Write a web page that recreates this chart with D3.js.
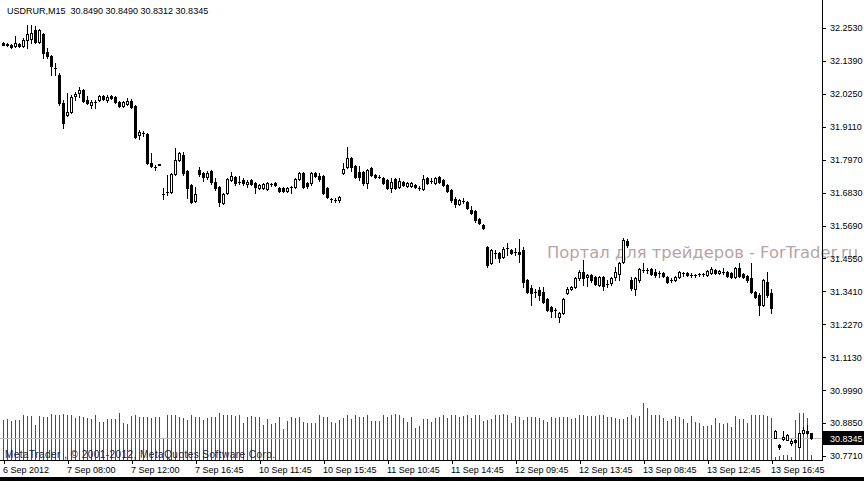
<!DOCTYPE html>
<html>
<head>
<meta charset="utf-8">
<script src="https://cdn.jsdelivr.net/npm/d3@7"></script>
<style>
  body { margin: 0; background: #fff; }
  svg { display: block; }
  text { font-family: "Liberation Sans", Arial, sans-serif; }
</style>
</head>
<body>
<div id="chart"></div>
<script>
// chart canvas
var svgWidth = 864;
var svgHeight = 481;
var plotRight = 822;
var plotBottom = 460;

// USDRUR M15 bars
var opens = [
  32.2018, 32.1983, 32.1931, 32.1896, 32.1966, 32.1896, 32.2104, 32.2139, 32.2450, 32.2035,
  32.2312, 32.1689, 32.1550, 32.1135, 32.0893, 31.9924, 31.9509, 31.9613, 32.0166, 32.0270,
  32.0374, 32.0028, 31.9855, 31.9959, 32.0028, 32.0166, 32.0028, 32.0166, 32.0132, 31.9959,
  31.9820, 31.9890, 31.9993, 31.9820, 31.8817, 31.8886, 31.8852, 31.7848, 31.7710, 31.7814,
  31.6776, 31.6845, 31.6845, 31.7468, 31.7952, 31.8125, 31.7571, 31.7087, 31.6533, 31.7606,
  31.7502, 31.7364, 31.7571, 31.7191, 31.7018, 31.6464, 31.6810, 31.7260, 31.7364, 31.7191,
  31.7260, 31.7122, 31.7260, 31.7156, 31.6983, 31.6983, 31.6949, 31.7122, 31.7156, 31.6983,
  31.6983, 31.6879, 31.7018, 31.7018, 31.7295, 31.7502, 31.7156, 31.7156, 31.7502, 31.7398,
  31.7398, 31.6983, 31.6603, 31.6568, 31.6568, 31.7502, 31.7710, 31.8021, 31.7744, 31.7537,
  31.7537, 31.7156, 31.7675, 31.7433, 31.7364, 31.7329, 31.7260, 31.6983, 31.7295, 31.7018,
  31.7191, 31.7052, 31.7052, 31.7087, 31.6983, 31.6949, 31.7329, 31.7225, 31.7156, 31.7364,
  31.7260, 31.7087, 31.6914, 31.6603, 31.6430, 31.6533, 31.6499, 31.6222, 31.6187, 31.5911,
  31.5703, 31.4942, 31.4388, 31.4734, 31.4734, 31.4596, 31.4907, 31.4838, 31.4769, 31.4769,
  31.4838, 31.3800, 31.3523, 31.3385, 31.3454, 31.3385, 31.3143, 31.2866, 31.2762, 31.2520,
  31.2658, 31.3350, 31.3489, 31.3558, 31.3869, 31.4077, 31.3904, 31.3973, 31.3904, 31.3627,
  31.3904, 31.3662, 31.3696, 31.3904, 31.4008, 31.4423, 31.5149, 31.3800, 31.3489, 31.3800,
  31.4146, 31.4146, 31.4181, 31.4077, 31.4042, 31.4042, 31.3904, 31.3800, 31.3800, 31.3904,
  31.4042, 31.4042, 31.3973, 31.3973, 31.4008, 31.4008, 31.3973, 31.4042, 31.4146, 31.4042,
  31.4077, 31.4077, 31.4042, 31.3904, 31.4215, 31.4008, 31.3938, 31.3869, 31.3385, 31.3281,
  31.2935, 31.3731, 31.3350, 30.8333, 30.8091, 30.8299, 30.8264, 30.8160, 30.8264, 30.8022,
  30.8506, 30.8575, 30.8490
];
var highs = [
  32.2035, 32.2000, 32.1966, 32.2242, 32.2000, 32.2173, 32.2623, 32.2623, 32.2588, 32.2485,
  32.2346, 32.1827, 32.1585, 32.1308, 32.0962, 32.0028, 32.0270, 32.0201, 32.0305, 32.0478,
  32.0409, 32.0166, 32.0028, 32.0028, 32.0201, 32.0201, 32.0201, 32.0201, 32.0166, 31.9993,
  31.9993, 32.0097, 32.0063, 31.9855, 31.8990, 31.8955, 31.8886, 31.8194, 31.7779, 31.7814,
  31.6983, 31.7433, 31.7502, 31.8367, 31.8229, 31.8229, 31.7606, 31.7122, 31.7018, 31.7710,
  31.7537, 31.7571, 31.7606, 31.7329, 31.7052, 31.6810, 31.7329, 31.7537, 31.7398, 31.7398,
  31.7329, 31.7260, 31.7295, 31.7191, 31.7122, 31.7156, 31.7191, 31.7156, 31.7191, 31.7018,
  31.7018, 31.7018, 31.7052, 31.7329, 31.7537, 31.7537, 31.7191, 31.7537, 31.7537, 31.7502,
  31.7433, 31.7018, 31.6637, 31.6637, 31.6706, 31.7848, 31.8402, 31.8056, 31.7779, 31.7744,
  31.7571, 31.7641, 31.7710, 31.7468, 31.7433, 31.7364, 31.7295, 31.7329, 31.7329, 31.7329,
  31.7225, 31.7191, 31.7191, 31.7122, 31.7052, 31.7433, 31.7364, 31.7329, 31.7364, 31.7398,
  31.7295, 31.7122, 31.6949, 31.6672, 31.6603, 31.6637, 31.6533, 31.6360, 31.6222, 31.5945,
  31.5738, 31.4976, 31.4873, 31.4838, 31.4769, 31.4942, 31.5080, 31.4873, 31.4907, 31.5219,
  31.4942, 31.3835, 31.3627, 31.3489, 31.3558, 31.3558, 31.3177, 31.2900, 31.2831, 31.2693,
  31.3177, 31.3558, 31.3592, 31.3904, 31.4146, 31.4492, 31.4008, 31.4008, 31.3938, 31.3938,
  31.3938, 31.3800, 31.3904, 31.4250, 31.4423, 31.5253, 31.5219, 31.3904, 31.3904, 31.4215,
  31.4388, 31.4215, 31.4215, 31.4181, 31.4111, 31.4077, 31.3938, 31.3869, 31.3938, 31.4111,
  31.4077, 31.4077, 31.4042, 31.4008, 31.4042, 31.4042, 31.4146, 31.4250, 31.4181, 31.4146,
  31.4215, 31.4111, 31.4077, 31.4250, 31.4388, 31.4042, 31.3973, 31.4388, 31.3419, 31.3350,
  31.3835, 31.4077, 31.3489, 30.8610, 30.8126, 30.8575, 30.8472, 30.8299, 30.8299, 30.8506,
  30.8714, 30.8783, 30.8490
];
var lows = [
  32.1931, 32.1896, 32.1827, 32.1862, 32.1862, 32.1862, 32.1827, 32.2000, 32.2000, 32.2000,
  32.1481, 32.1481, 32.0893, 32.0893, 31.9855, 31.9059, 31.9474, 31.9578, 32.0028, 32.0132,
  31.9959, 31.9890, 31.9751, 31.9751, 31.9993, 32.0028, 31.9959, 32.0063, 31.9924, 31.9786,
  31.9786, 31.9855, 31.9751, 31.8713, 31.8679, 31.8782, 31.7814, 31.7710, 31.7606, 31.7779,
  31.6603, 31.6741, 31.6828, 31.7433, 31.7917, 31.7433, 31.6637, 31.6464, 31.6516, 31.7398,
  31.7225, 31.7295, 31.7122, 31.6914, 31.6360, 31.6447, 31.6793, 31.7225, 31.7087, 31.7139,
  31.7087, 31.7018, 31.7087, 31.6810, 31.6949, 31.6949, 31.6914, 31.7052, 31.7052, 31.6845,
  31.6845, 31.6845, 31.6810, 31.6983, 31.7260, 31.6983, 31.6983, 31.7087, 31.7364, 31.7225,
  31.6776, 31.6637, 31.6499, 31.6499, 31.6499, 31.7485, 31.7675, 31.7571, 31.7329, 31.7260,
  31.7087, 31.6983, 31.7398, 31.7329, 31.7329, 31.7122, 31.6949, 31.6845, 31.6949, 31.6983,
  31.7052, 31.7018, 31.7018, 31.6983, 31.6914, 31.6914, 31.7122, 31.7156, 31.7122, 31.7156,
  31.7052, 31.6845, 31.6499, 31.6326, 31.6395, 31.6464, 31.6257, 31.6084, 31.5807, 31.5738,
  31.5565, 31.4250, 31.4354, 31.4561, 31.4423, 31.4561, 31.4665, 31.4700, 31.4665, 31.4423,
  31.3558, 31.3350, 31.2935, 31.3212, 31.3108, 31.3021, 31.2727, 31.2520, 31.2520, 31.2347,
  31.2624, 31.3316, 31.3454, 31.3523, 31.3800, 31.3627, 31.3592, 31.3731, 31.3627, 31.3592,
  31.3454, 31.3558, 31.3627, 31.3800, 31.3800, 31.4388, 31.4942, 31.3454, 31.3281, 31.3731,
  31.4077, 31.4042, 31.3973, 31.3904, 31.3904, 31.3904, 31.3696, 31.3731, 31.3765, 31.3869,
  31.3938, 31.3938, 31.3904, 31.3904, 31.3938, 31.3938, 31.3938, 31.4008, 31.4008, 31.4008,
  31.4025, 31.3904, 31.3869, 31.3869, 31.3904, 31.3869, 31.3731, 31.3350, 31.3177, 31.2589,
  31.2900, 31.3212, 31.2658, 30.8316, 30.7953, 30.8281, 30.8247, 30.8091, 30.8160, 30.8005,
  30.8489, 30.8472, 30.8312
];
var closes = [
  32.1948, 32.1931, 32.1862, 32.2000, 32.1896, 32.2104, 32.2312, 32.2346, 32.2035, 32.2450,
  32.1654, 32.1550, 32.1204, 32.1135, 31.9924, 31.9232, 31.9613, 32.0132, 32.0236, 32.0374,
  31.9993, 31.9924, 31.9959, 31.9959, 32.0166, 32.0063, 32.0132, 32.0097, 31.9959, 31.9820,
  31.9959, 31.9993, 31.9786, 31.8748, 31.8921, 31.8886, 31.7848, 31.7744, 31.7710, 31.7779,
  31.6776, 31.6845, 31.7468, 31.7952, 31.8194, 31.7502, 31.6983, 31.6499, 31.6776, 31.7468,
  31.7364, 31.7502, 31.7191, 31.6983, 31.6499, 31.6776, 31.7295, 31.7398, 31.7156, 31.7191,
  31.7156, 31.7191, 31.7122, 31.7018, 31.7087, 31.7122, 31.7156, 31.7122, 31.7087, 31.6879,
  31.6879, 31.6983, 31.7018, 31.7295, 31.7502, 31.7018, 31.7052, 31.7502, 31.7398, 31.7295,
  31.6810, 31.6672, 31.6603, 31.6568, 31.6672, 31.7641, 31.8021, 31.7710, 31.7364, 31.7364,
  31.7156, 31.7606, 31.7433, 31.7364, 31.7364, 31.7156, 31.6983, 31.7191, 31.6983, 31.7225,
  31.7087, 31.7156, 31.7156, 31.7018, 31.6983, 31.7295, 31.7156, 31.7225, 31.7329, 31.7191,
  31.7087, 31.6879, 31.6568, 31.6430, 31.6568, 31.6533, 31.6291, 31.6118, 31.5876, 31.5772,
  31.5599, 31.4319, 31.4838, 31.4734, 31.4561, 31.4873, 31.4907, 31.4734, 31.4769, 31.4700,
  31.3731, 31.3385, 31.3350, 31.3385, 31.3281, 31.3039, 31.2762, 31.2727, 31.2762, 31.2658,
  31.3143, 31.3489, 31.3558, 31.3869, 31.4077, 31.3869, 31.3973, 31.3800, 31.3662, 31.3904,
  31.3592, 31.3662, 31.3869, 31.4077, 31.4388, 31.5184, 31.5011, 31.3523, 31.3869, 31.4181,
  31.4146, 31.4146, 31.4008, 31.3973, 31.4042, 31.3938, 31.3731, 31.3800, 31.3904, 31.4077,
  31.4042, 31.3973, 31.3973, 31.3973, 31.4008, 31.4008, 31.4111, 31.4181, 31.4042, 31.4111,
  31.4077, 31.3938, 31.3904, 31.4215, 31.3938, 31.3904, 31.3800, 31.3385, 31.3212, 31.2935,
  31.3800, 31.3281, 31.2831, 30.8575, 30.8022, 30.8368, 30.8437, 30.8229, 30.8195, 30.8506,
  30.8610, 30.8506, 30.8345
];
// tick volumes
var volumes = [
  120, 122, 117, 120, 120, 135, 132, 132, 105, 132,
  128, 128, 138, 135, 135, 137, 135, 135, 125, 132,
  128, 125, 122, 135, 115, 115, 122, 122, 122, 140,
  112, 108, 133, 135, 128, 128, 128, 125, 128, 128,
  62, 135, 135, 135, 130, 125, 120, 135, 128, 128,
  120, 125, 128, 130, 140, 135, 135, 135, 132, 135,
  110, 128, 132, 130, 128, 105, 122, 108, 110, 128,
  92, 118, 128, 125, 128, 115, 110, 110, 110, 135,
  128, 130, 115, 110, 120, 125, 135, 122, 135, 128,
  130, 135, 118, 118, 118, 135, 130, 135, 137, 135,
  125, 113, 130, 95, 102, 122, 122, 113, 125, 128,
  135, 125, 135, 135, 128, 132, 135, 125, 135, 135,
  118, 120, 122, 135, 135, 137, 135, 110, 132, 130,
  120, 128, 128, 128, 125, 120, 115, 128, 125, 128,
  128, 128, 122, 125, 135, 135, 132, 132, 132, 135,
  135, 128, 130, 125, 122, 122, 128, 135, 125, 132,
  170, 155, 135, 135, 135, 125, 118, 122, 132, 128,
  122, 110, 132, 115, 110, 102, 102, 105, 125, 110,
  108, 110, 100, 132, 122, 122, 110, 135, 135, 135,
  135, 132, 125, 10, 13, 15, 15, 10, 120, 140,
  140, 125, 15
];

var timeLabels = ["6 Sep 2012", "7 Sep 08:00", "7 Sep 12:00", "7 Sep 16:45", "10 Sep 11:45",
  "10 Sep 15:45", "11 Sep 10:45", "11 Sep 14:45", "12 Sep 09:45", "12 Sep 13:45",
  "13 Sep 08:45", "13 Sep 12:45", "13 Sep 16:45"];
var priceTicks = [32.2530, 32.1390, 32.0250, 31.9110, 31.7970, 31.6830, 31.5690,
  31.4550, 31.3410, 31.2270, 31.1130, 30.9990, 30.8850, 30.7710];

var svg = d3.select("#chart")
  .append("svg")
  .attr("width", svgWidth)
  .attr("height", svgHeight);

// scales: one bar every 4 px
var n = opens.length;
var x = d3.scaleLinear()
  .domain([0, n - 1])
  .range([3.5, 3.5 + 4 * (n - 1)]);
var y = d3.scaleLinear()
  .domain([30.771, 32.253])
  .range([456, 28]);
var yVol = d3.scaleLinear()
  .domain([0, 180])
  .range([plotBottom, 400]);

// volumes
svg.append("g").selectAll("line")
  .data(volumes)
  .enter()
  .append("line")
  .attr("x1", (d, i) => x(i))
  .attr("x2", (d, i) => x(i))
  .attr("y1", yVol(0))
  .attr("y2", d => Math.round(yVol(d)))
  .attr("stroke", "#008000")
  .attr("shape-rendering", "crispEdges");

// watermark
svg.append("text")
  .attr("x", 547)
  .attr("y", 258)
  .attr("textLength", 311)
  .attr("lengthAdjust", "spacingAndGlyphs")
  .style("font-family", "'DejaVu Sans', sans-serif")
  .style("font-size", "16px")
  .style("fill", "#b8a4a4")
  .text("Портал для трейдеров - ForTrader.ru");

// last price line
var lastPrice = closes[n - 1];
var yLast = Math.round(y(lastPrice)) + 0.5;
svg.append("line")
  .attr("x1", 0).attr("x2", plotRight)
  .attr("y1", yLast).attr("y2", yLast)
  .attr("stroke", "#c0c0c0");

// candles
var idx = d3.range(n);
var candles = svg.append("g");
candles.selectAll("line.wick")
  .data(idx)
  .enter()
  .append("line")
  .attr("class", "wick")
  .attr("x1", i => x(i))
  .attr("x2", i => x(i))
  .attr("y1", i => Math.round(y(highs[i])))
  .attr("y2", i => Math.round(y(lows[i])) + 1)
  .attr("stroke", "#000")
  .attr("shape-rendering", "crispEdges");

candles.selectAll("rect.body")
  .data(idx.filter(i => Math.round(y(opens[i])) != Math.round(y(closes[i]))))
  .enter()
  .append("rect")
  .attr("class", "body")
  .attr("x", i => x(i) - 1)
  .attr("y", i => Math.round(y(Math.max(opens[i], closes[i]))) + 0.5)
  .attr("width", 2)
  .attr("height", i => Math.round(y(Math.min(opens[i], closes[i]))) - Math.round(y(Math.max(opens[i], closes[i]))))
  .attr("fill", i => closes[i] >= opens[i] ? "#fff" : "#000")
  .attr("stroke", "#000");

candles.selectAll("line.doji")
  .data(idx.filter(i => Math.round(y(opens[i])) == Math.round(y(closes[i]))))
  .enter()
  .append("line")
  .attr("class", "doji")
  .attr("x1", i => x(i) - 1.5)
  .attr("x2", i => x(i) + 1.5)
  .attr("y1", i => Math.round(y(opens[i])) + 0.5)
  .attr("y2", i => Math.round(y(opens[i])) + 0.5)
  .attr("stroke", "#000");

// frame
svg.append("line")
  .attr("x1", plotRight + 0.5).attr("x2", plotRight + 0.5)
  .attr("y1", 0).attr("y2", plotBottom + 1)
  .attr("stroke", "#000");
svg.append("line")
  .attr("x1", 0).attr("x2", plotRight + 1)
  .attr("y1", plotBottom + 0.5).attr("y2", plotBottom + 0.5)
  .attr("stroke", "#000");

// price axis
var priceAxis = d3.axisRight(y)
  .tickValues(priceTicks)
  .tickFormat(d3.format(".4f"))
  .tickSize(3)
  .tickPadding(4);
var pa = svg.append("g")
  .attr("transform", `translate(${plotRight + 1}, 0)`)
  .call(priceAxis);
pa.select(".domain").remove();
pa.selectAll("text")
  .style("font-family", "'Liberation Sans', Arial, sans-serif")
  .style("font-size", "9px")
  .attr("fill", "#000");
pa.selectAll("line").attr("shape-rendering", "crispEdges");

// time axis
var timeAxis = d3.axisBottom(x)
  .tickValues(timeLabels.map((d, i) => i * 16))
  .tickFormat((d, i) => timeLabels[i])
  .tickSize(3)
  .tickPadding(3);
var ta = svg.append("g")
  .attr("transform", `translate(0, ${plotBottom + 1})`)
  .call(timeAxis);
ta.select(".domain").remove();
ta.selectAll("text")
  .attr("text-anchor", "start")
  .attr("x", -1)
  .style("font-family", "'Liberation Sans', Arial, sans-serif")
  .style("font-size", "9px")
  .attr("fill", "#000");
ta.selectAll("line").attr("shape-rendering", "crispEdges");

// last price tag
svg.append("rect")
  .attr("x", plotRight + 1)
  .attr("y", yLast - 7.5)
  .attr("width", svgWidth - plotRight - 1)
  .attr("height", 14)
  .attr("fill", "#000");
svg.append("text")
  .attr("x", plotRight + 8)
  .attr("y", yLast + 3.5)
  .style("font-size", "9px")
  .style("fill", "#fff")
  .text(d3.format(".4f")(lastPrice));

// header
svg.append("text")
  .attr("x", 7)
  .attr("y", 14)
  .style("font-size", "9px")
  .style("fill", "#000")
  .text(`USDRUR,M15  ${d3.format(".4f")(opens[n - 1])} ${d3.format(".4f")(highs[n - 1])} ${d3.format(".4f")(lows[n - 1])} ${d3.format(".4f")(closes[n - 1])}`)
  .attr("xml:space", "preserve");

// copyright
svg.append("text")
  .attr("x", 5)
  .attr("y", 458)
  .attr("textLength", 270)
  .style("font-size", "10px")
  .style("fill", "#1a2240")
  .text("MetaTrader , © 2001-2012, MetaQuotes Software Corp.");

// window bottom edge
svg.append("rect")
  .attr("x", 0).attr("y", 477)
  .attr("width", svgWidth).attr("height", 4)
  .attr("fill", "#000");
</script>
</body>
</html>
